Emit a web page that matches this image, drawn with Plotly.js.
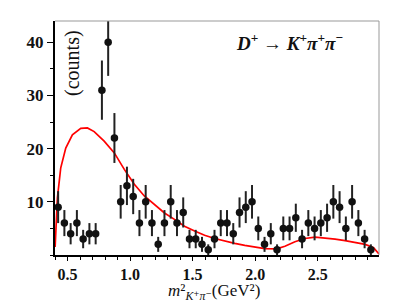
<!DOCTYPE html>
<html><head><meta charset="utf-8">
<script src="https://cdn.plot.ly/plotly-3.0.1.min.js"></script>
<style>html,body{margin:0;padding:0;background:#fff;}#chart{width:416px;height:306px;}</style>
</head><body><div id="chart"></div>
<script>
// Data points (bin centres, GeV^2) and counts
const binStart = 0.425, binWidth = 0.05;
const counts = [9,6,4,6,3,4,4,31,40,22,10,13,11,6,10,6,2,6,10,6,8,3,3,2,1,3,6,6,4,8,9,10,5,2,4,1,5,5,7,3,6,5,6,7,10,9,5,10,6,3,1];
const countErr = [3,2.45,2,2.45,1.73,2,2,5.57,6.32,4.69,3.16,3.61,3.32,2.45,3.16,2.45,1.41,2.45,3.16,2.45,2.83,1.73,1.73,1.41,1,1.73,2.45,2.45,2,2.83,3,3.16,2.24,1.41,2,1,2.24,2.24,2.65,1.73,2.45,2.24,2.45,2.65,3.16,3,2.24,3.16,2.45,1.73,1];
const binX = counts.map((_, i) => +(binStart + i * binWidth).toFixed(3));

// Red curve (MC projection)
const curveX = [0.401,0.419,0.446,0.486,0.539,0.606,0.659,0.713,0.793,0.874,0.954,1.034,1.114,1.195,1.275,1.355,1.435,1.516,1.596,1.676,1.756,1.837,1.917,1.997,2.077,2.171,2.238,2.318,2.398,2.479,2.559,2.639,2.719,2.799,2.880,2.947,2.990];
const curveY = [1.5,10.7,16.4,20.1,22.6,23.8,23.9,23.2,21.4,19.2,16.1,13.3,11.1,9.4,7.9,6.7,5.4,4.5,3.7,3.1,2.6,2.2,1.8,1.5,1.2,1.15,1.65,2.5,3.1,3.35,3.2,3.0,2.7,2.4,2.0,1.35,0.2];

const xTicks = [0.5,1.0,1.5,2.0,2.5];
const yTicks = [10,20,30,40];

const serif = "Liberation Serif, DejaVu Serif, serif";

const traces = [
  {x: curveX, y: curveY, type: 'scatter', mode: 'lines', line: {color: '#ff0000', width: 1.7}, hoverinfo: 'skip'},
  {x: binX, y: counts, type: 'scatter', mode: 'markers',
   marker: {color: '#111', size: 7.5},
   error_y: {type: 'data', array: countErr, visible: true, color: '#222', thickness: 2, width: 0}}
];

const layout = {
  width: 416, height: 306,
  margin: {l: 55, r: 37, t: 21, b: 51},
  paper_bgcolor: '#fff', plot_bgcolor: '#fff',
  showlegend: false,
  xaxis: {
    range: [0.40, 2.99], showgrid: false, zeroline: false,
    showline: true, linecolor: '#000', linewidth: 2,
    tickmode: 'array', tickvals: xTicks, ticktext: xTicks.map(v => v.toFixed(1)),
    ticks: 'outside', ticklen: 4, tickwidth: 1, tickcolor: '#000',
    minor: {dtick: 0.1, tick0: 0.4, ticks: 'outside', ticklen: 3, tickwidth: 1, tickcolor: '#000'},
    tickfont: {family: serif, size: 16, color: '#111', weight: 'bold'},
    title: {text: ''}
  },
  yaxis: {
    range: [0, 44], showgrid: false, zeroline: false,
    showline: true, linecolor: '#000', linewidth: 2,
    tickmode: 'array', tickvals: yTicks,
    ticks: 'outside', ticklen: 6, tickwidth: 1, tickcolor: '#000',
    minor: {dtick: 5, tick0: 0, ticks: 'outside', ticklen: 3, tickwidth: 1, tickcolor: '#000'},
    tickfont: {family: serif, size: 17, color: '#111', weight: 'bold'}
  },
  shapes: [
    {type: 'line', xref: 'paper', yref: 'paper', x0: 0, x1: 1, y0: 1, y1: 1, line: {color: '#999', width: 1}},
    {type: 'line', xref: 'paper', yref: 'paper', x0: 1, x1: 1, y0: 0, y1: 1, line: {color: '#999', width: 1}}
  ],
  annotations: [
    {text: '<i>m</i>²<sub><i>K</i>⁺<i>π</i>⁻</sub>(GeV²)', xref: 'paper', yref: 'paper',
     x: 0.49, y: -0.16, xanchor: 'center', yanchor: 'middle', showarrow: false,
     font: {family: serif, size: 17, color: '#111'}},
    {text: '(counts)', xref: 'paper', yref: 'paper', x: 0.052, y: 0.82, textangle: -90, showarrow: false,
     font: {family: serif, size: 20, color: '#111'}, xanchor: 'center', yanchor: 'middle'},
    {text: '<b><i>D</i><sup>+</sup> → <i>K</i><sup>+</sup><i>π</i><sup>+</sup><i>π</i><sup>−</sup></b>', xref: 'paper', yref: 'paper',
     x: 0.725, y: 0.91, showarrow: false, font: {family: serif, size: 19, color: '#111'}, xanchor: 'center', yanchor: 'middle'}
  ]
};

Plotly.newPlot('chart', traces, layout, {staticPlot: true, displayModeBar: false});
</script>
</body></html>
